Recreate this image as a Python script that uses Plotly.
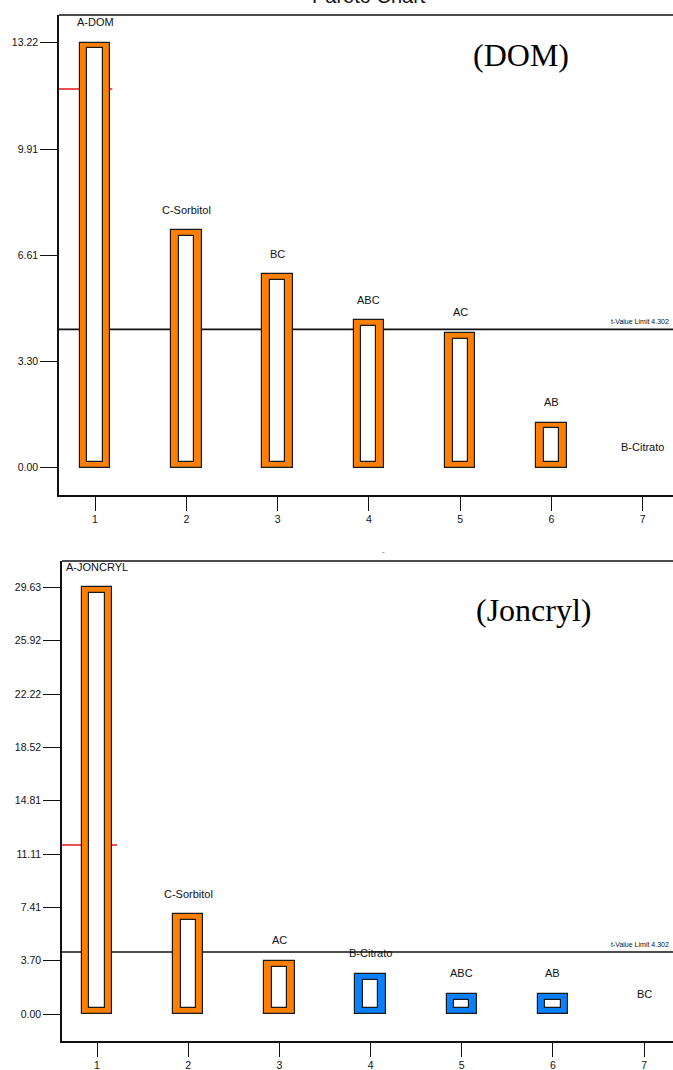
import plotly.graph_objects as go

W, H = 673, 1070

# ---------------- data ----------------
ranks = [1, 2, 3, 4, 5, 6, 7]
rank_labels = ["1", "2", "3", "4", "5", "6", "7"]

dom_terms = ["A-DOM", "C-Sorbitol", "BC", "ABC", "AC", "AB", "B-Citrato"]
dom_tvalues = [13.22, 7.39, 6.02, 4.59, 4.19, 1.40, 0.0]
dom_effect = ["+", "+", "+", "+", "+", "+", "+"]
dom_ticks = [0.00, 3.30, 6.61, 9.91, 13.22]
dom_tlimit = 4.302
dom_bonferroni = 11.78

jon_terms = ["A-JONCRYL", "C-Sorbitol", "AC", "B-Citrato", "ABC", "AB", "BC"]
jon_tvalues = [29.63, 6.94, 3.70, 2.78, 1.39, 1.39, 0.0]
jon_effect = ["+", "+", "+", "-", "-", "-", "+"]
jon_ticks = [0.00, 3.70, 7.41, 11.11, 14.81, 18.52, 22.22, 25.92, 29.63]
jon_tlimit = 4.302
jon_bonferroni = 11.74

# ---------------- styling ----------------
ORANGE = "#FF8000"
BLUE = "#0A80FF"
OUTLINE = "#1a1a1a"
NARROW = "Liberation Sans Narrow, Arial Narrow, Liberation Sans, Arial"
SERIF = "Liberation Serif, Times New Roman, serif"

panels = [
    dict(terms=dom_terms, vals=dom_tvalues, eff=dom_effect, ticks=dom_ticks,
         tlim=dom_tlimit, bonf=dom_bonferroni,
         px_top=15, px_bottom=495, px_left=59,
         yrange=[-0.849, 14.08], xrange=[0.6057, 7.331],
         ax="x", ay="y", xname="xaxis", yname="yaxis", bonf_x1=1.19),
    dict(terms=jon_terms, vals=jon_tvalues, eff=jon_effect, ticks=jon_ticks,
         tlim=jon_tlimit, bonf=jon_bonferroni,
         px_top=561, px_bottom=1041, px_left=62,
         yrange=[-1.875, 31.458], xrange=[0.6162, 7.316],
         ax="x2", ay="y2", xname="xaxis2", yname="yaxis2", bonf_x1=1.22),
]

fig = go.Figure()
shapes = []
annotations = []

for p in panels:
    plot_h = p["px_bottom"] - p["px_top"]
    ppu = plot_h / (p["yrange"][1] - p["yrange"][0])  # pixels per unit
    pad = 5.8 / ppu
    colors = [ORANGE if e == "+" else BLUE for e in p["eff"]]
    outer_y = [v if v > 0 else None for v in p["vals"]]
    inner_y = [(v - 2 * pad) if v > 2 * pad else None for v in p["vals"]]

    fig.add_trace(go.Bar(
        x=ranks, y=outer_y, width=0.335, marker=dict(color=colors, line=dict(color=OUTLINE, width=1.2)),
        xaxis=p["ax"], yaxis=p["ay"], hoverinfo="skip"))
    fig.add_trace(go.Bar(
        x=ranks, y=inner_y, base=pad, width=0.165,
        marker=dict(color="white", line=dict(color=OUTLINE, width=1.2)),
        xaxis=p["ax"], yaxis=p["ay"], hoverinfo="skip"))

    # term labels above bars
    for r, t, v in zip(ranks, p["terms"], p["vals"]):
        annotations.append(dict(x=r, y=v, xref=p["ax"], yref=p["ay"], text=t,
                                showarrow=False, yanchor="middle", yshift=20.5,
                                font=dict(family=NARROW, size=11, color="#111")))

    # t-value limit line
    shapes.append(dict(type="line", xref=p["ax"] + " domain", yref=p["ay"], x0=0, x1=1,
                       y0=p["tlim"], y1=p["tlim"], line=dict(color="#111", width=1.6), layer="below"))
    annotations.append(dict(x=0.997, y=p["tlim"], xref=p["ax"] + " domain", yref=p["ay"],
                            text=f"t-Value Limit {p['tlim']:.3f}", showarrow=False,
                            xanchor="right", yanchor="middle", yshift=8,
                            font=dict(family=NARROW, size=7, color="#111")))
    # Bonferroni limit (red)
    shapes.append(dict(type="line", xref=p["ax"], yref=p["ay"], x0=p["xrange"][0], x1=p["bonf_x1"],
                       y0=p["bonf"], y1=p["bonf"], line=dict(color="#E8141C", width=1.6), layer="below"))
    # top frame line
    shapes.append(dict(type="line", xref=p["ax"] + " domain", yref=p["ay"] + " domain", x0=0, x1=1,
                       y0=1, y1=1, line=dict(color="#111", width=1.6)))

    fig.layout[p["xname"]] = dict(
        domain=[p["px_left"] / W, 1.0], range=p["xrange"], anchor=p["ay"],
        tickvals=ranks, ticktext=rank_labels, ticks="outside", ticklen=14, tickwidth=1.3,
        tickcolor="#111", showline=True, linecolor="#111", linewidth=1.6,
        showgrid=False, zeroline=False, fixedrange=True,
        tickfont=dict(family=NARROW, size=10.5, color="#111"))
    fig.layout[p["yname"]] = dict(
        domain=[1 - p["px_bottom"] / H, 1 - p["px_top"] / H], range=p["yrange"], anchor=p["ax"],
        tickvals=p["ticks"], ticktext=[f"{t:.2f}" for t in p["ticks"]],
        ticks="outside", ticklen=17, tickwidth=1.3, tickcolor="#111",
        showline=True, linecolor="#111", linewidth=1.6,
        showgrid=False, zeroline=False, fixedrange=True,
        tickfont=dict(family=NARROW, size=10.5, color="#111"))

# panel captions
annotations.append(dict(x=521 / W, y=1 - 55 / H, xref="paper", yref="paper", text="(DOM)",
                        showarrow=False, xanchor="center", yanchor="middle",
                        font=dict(family=SERIF, size=32, color="black")))
annotations.append(dict(x=534 / W, y=1 - 610 / H, xref="paper", yref="paper", text="(Joncryl)",
                        showarrow=False, xanchor="center", yanchor="middle",
                        font=dict(family=SERIF, size=32, color="black")))
# cut-off chart title at the very top
annotations.append(dict(x=369 / W, y=1 + 4 / H, xref="paper", yref="paper", text="Pareto Chart",
                        showarrow=False, xanchor="center", yanchor="middle",
                        font=dict(family="Liberation Sans, Arial", size=20, color="#111")))
annotations.append(dict(x=383 / W, y=1 - 551 / H, xref="paper", yref="paper", text="-",
                        showarrow=False, xanchor="center", yanchor="middle",
                        font=dict(family=NARROW, size=8, color="#555")))

fig.update_layout(
    width=W, height=H, margin=dict(l=0, r=0, t=0, b=0),
    paper_bgcolor="white", plot_bgcolor="white",
    barmode="overlay", bargap=0, showlegend=False,
    shapes=shapes, annotations=annotations,
)

fig.write_html("out.html")
